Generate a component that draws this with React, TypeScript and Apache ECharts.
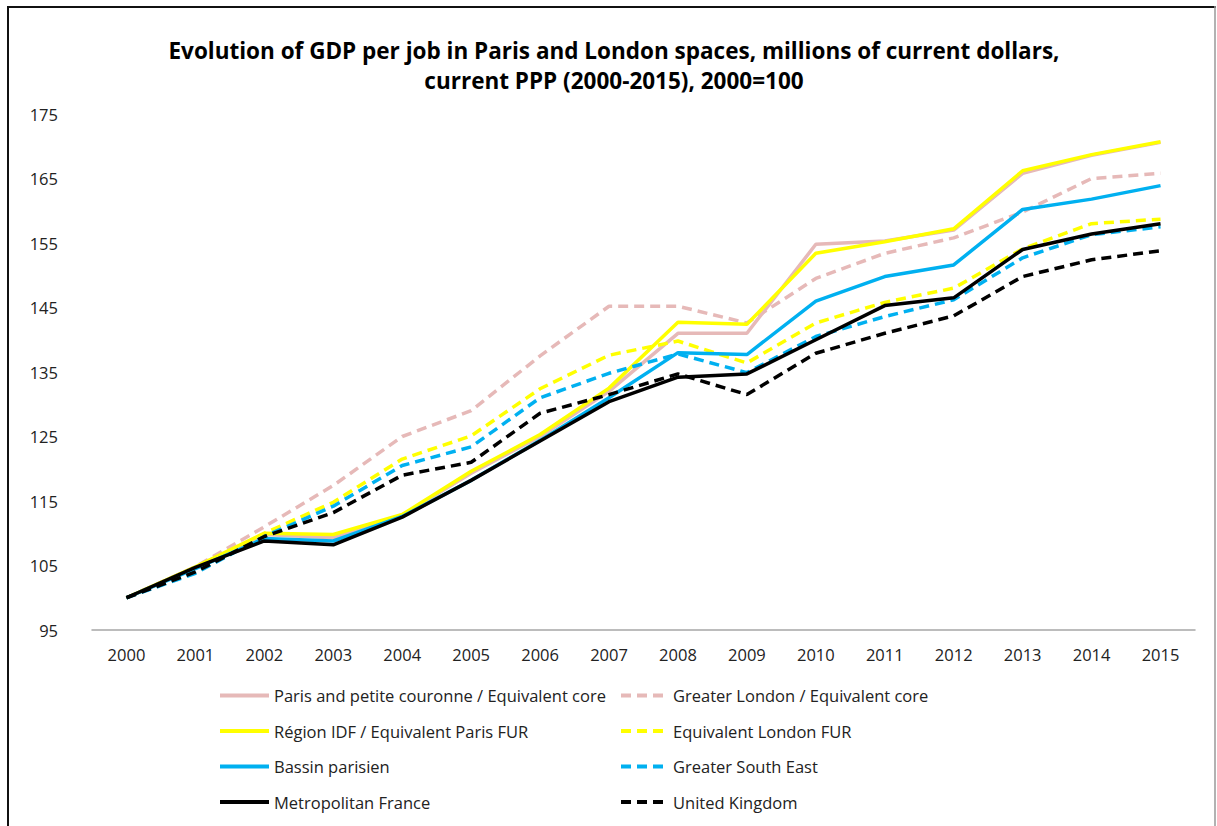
import React, { useEffect, useRef } from "react";
import * as echarts from "echarts";

const years = ["2000","2001","2002","2003","2004","2005","2006","2007","2008","2009","2010","2011","2012","2013","2014","2015"];
const yTicks = [95, 105, 115, 125, 135, 145, 155, 165, 175];

const parisCore = [100, 104.7, 109.8, 109.3, 112.8, 119.3, 125, 132, 141, 141, 154.8, 155.3, 157, 165.8, 168.6, 170.6];
const regionIdf = [100, 104.8, 110, 109.8, 112.9, 119.6, 125.3, 132.5, 142.7, 142.4, 153.4, 155.2, 157.2, 166.2, 168.7, 170.7];
const bassinParisien = [100, 104.5, 109.2, 108.8, 112.6, 118.2, 124.4, 131, 138, 137.7, 146, 149.8, 151.6, 160.2, 161.8, 163.9];
const metroFrance = [100, 104.7, 108.8, 108.2, 112.5, 118.2, 124.3, 130.4, 134.2, 134.7, 140, 145.3, 146.5, 154, 156.4, 158];
const greaterLondon = [100, 104.8, 111, 117.4, 125, 129, 137.5, 145.2, 145.2, 142.6, 149.5, 153.4, 155.8, 159.8, 165, 165.8];
const londonFur = [100, 104.6, 110, 114.8, 121.5, 125.1, 132.4, 137.6, 139.8, 136.4, 142.6, 145.8, 148, 154.1, 158, 158.7];
const greaterSouthEast = [100, 103.8, 109.5, 114.2, 120.5, 123.4, 131, 134.8, 137.8, 134.9, 140.5, 143.6, 146.2, 152.7, 156.3, 157.5];
const unitedKingdom = [100, 104, 109.5, 113.2, 119, 121, 128.6, 131.5, 134.7, 131.5, 137.9, 141, 143.7, 149.8, 152.4, 153.8];

const seriesNames = [
  "Paris and petite couronne / Equivalent core",
  "Greater London / Equivalent core",
  "Région IDF / Equivalent Paris FUR",
  "Equivalent London FUR",
  "Bassin parisien",
  "Greater South East",
  "Metropolitan France",
  "United Kingdom",
];
const seriesData = [parisCore, greaterLondon, regionIdf, londonFur, bassinParisien, greaterSouthEast, metroFrance, unitedKingdom];
const seriesColors = ["#E6B9B8", "#E6B9B8", "#FFFF00", "#FFFF00", "#00B0F0", "#00B0F0", "#000000", "#000000"];
const seriesDashed = [false, true, false, true, false, true, false, true];

const FONT = "'Open Sans', Lato, sans-serif";

export default function App() {
  const ref = useRef<HTMLDivElement>(null);
  useEffect(() => {
    if (!ref.current) return;
    const chart = echarts.init(ref.current, null, { renderer: "svg" });
    const series = seriesNames.map((name, i) => ({
      name,
      type: "line",
      data: seriesData[i],
      symbol: "none",
      lineStyle: {
        color: seriesColors[i],
        width: 3.5,
        type: seriesDashed[i] ? [10, 6] : "solid",
      },
      itemStyle: { color: seriesColors[i] },
    }));
    const legendBase = {
      orient: "vertical",
      top: 687,
      padding: 0,
      itemHeight: 16,
      itemGap: 18.5,
      itemStyle: { opacity: 0 },
      lineStyle: { width: 4 },
      textStyle: { fontFamily: FONT, fontSize: 16.5, lineHeight: 16, color: "#222" },
    };
    chart.setOption({
      animation: false,
      backgroundColor: "#ffffff",
      title: {
        text: "Evolution of GDP per job in Paris and London spaces, millions of current dollars,\ncurrent PPP (2000-2015), 2000=100",
        left: 609,
        top: 30,
        textAlign: "center",
        textStyle: {
          fontFamily: FONT,
          fontWeight: "bold",
          fontSize: 22.5,
          lineHeight: 30,
          color: "#000",
        },
      },
      grid: { left: 92, right: 22, top: 114, bottom: 196 },
      xAxis: {
        type: "category",
        data: years,
        boundaryGap: true,
        axisLine: { lineStyle: { color: "#a6a6a6", width: 1.5 } },
        axisTick: { show: false },
        axisLabel: { fontFamily: FONT, fontSize: 16.5, color: "#222", margin: 16 },
        splitLine: { show: false },
      },
      yAxis: {
        type: "value",
        min: 95,
        max: 175,
        axisLine: { show: false },
        axisTick: { show: false },
        splitLine: { show: false },
        axisLabel: {
          fontFamily: FONT,
          fontSize: 16.5,
          color: "#222",
          margin: 34,
          customValues: yTicks,
        },
      },
      legend: [
        {
          ...legendBase,
          left: 218,
          itemWidth: 49,
          data: [seriesNames[0], seriesNames[2], seriesNames[4], seriesNames[6]],
        },
        {
          ...legendBase,
          left: 619,
          itemWidth: 47,
          data: [seriesNames[1], seriesNames[3], seriesNames[5], seriesNames[7]],
        },
      ],
      graphic: [
        { type: "line", shape: { x1: 7, y1: 7, x2: 1216, y2: 7 }, style: { stroke: "#111", lineWidth: 2 } },
        { type: "line", shape: { x1: 8, y1: 6, x2: 8, y2: 826 }, style: { stroke: "#111", lineWidth: 2 } },
        { type: "line", shape: { x1: 1215, y1: 6, x2: 1215, y2: 826 }, style: { stroke: "#999", lineWidth: 1.5 } },
      ],
      series,
    });
    return () => chart.dispose();
  }, []);
  return (
    <div
      ref={ref}
      style={{ position: "fixed", left: 0, top: 0, width: 1217, height: 826, background: "#fff" }}
    />
  );
}
